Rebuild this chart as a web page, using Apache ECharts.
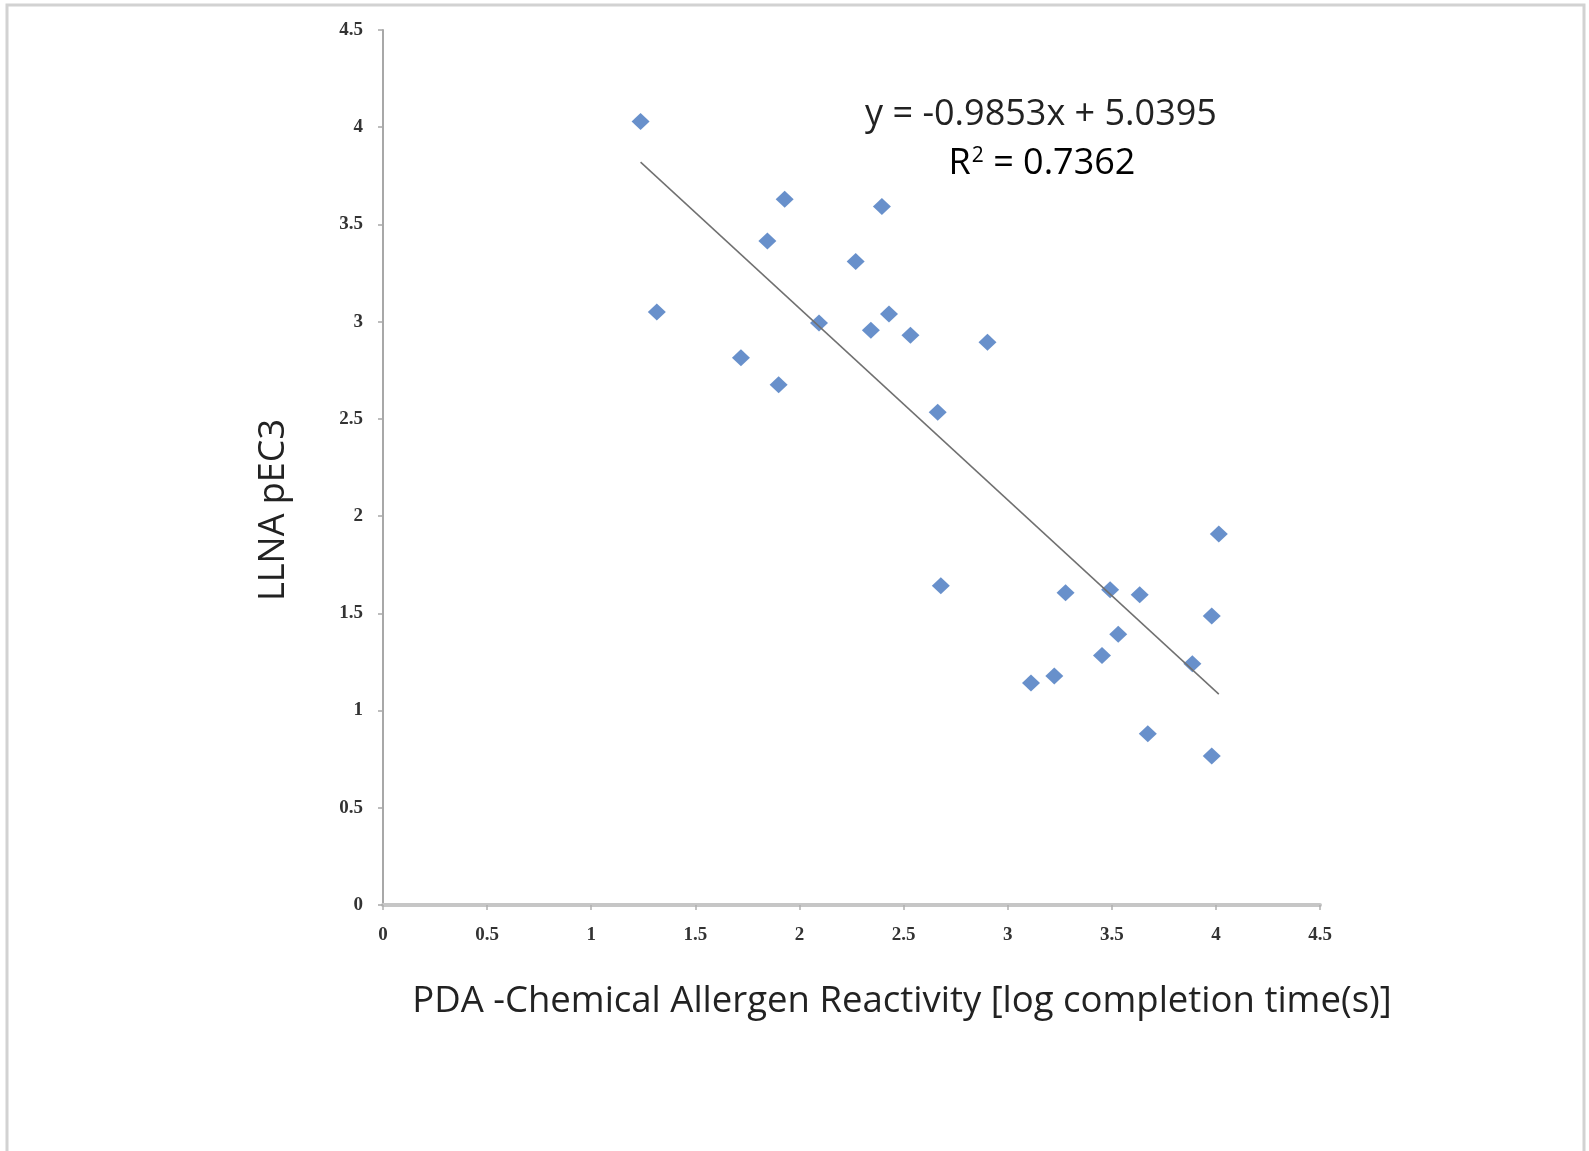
<!DOCTYPE html>
<html>
<head>
<meta charset="utf-8">
<style>
  html, body { margin: 0; padding: 0; background: #fff; }
  #main { width: 1589px; height: 1151px; }
</style>
<script src="https://cdn.jsdelivr.net/npm/echarts@6/dist/echarts.min.js"></script>
</head>
<body>
<div id="main"></div>
<script>
// PDA reactivity (log completion time) vs LLNA pEC3
var xValues = [1.237, 1.315, 1.719, 1.846, 1.929, 1.900, 2.094, 2.270, 2.396, 2.343,
               2.430, 2.533, 2.903, 2.664, 2.679, 3.278, 3.112, 3.224, 3.453, 3.492,
               3.531, 3.634, 3.673, 3.887, 3.980, 3.980, 4.014];
var yValues = [4.030, 3.050, 2.815, 3.415, 3.629, 2.675, 2.993, 3.310, 3.592, 2.956,
               3.040, 2.930, 2.894, 2.534, 1.642, 1.606, 1.142, 1.178, 1.283, 1.621,
               1.392, 1.595, 0.881, 1.241, 1.486, 0.766, 1.908];
var xTicks = [0, 0.5, 1, 1.5, 2, 2.5, 3, 3.5, 4, 4.5];
var yTicks = [0, 0.5, 1, 1.5, 2, 2.5, 3, 3.5, 4, 4.5];

// trendline from the equation shown on the chart
var slope = -0.9853;
var intercept = 5.0395;
var rSquared = '0.7362';

var points = xValues.map(function (x, i) { return [x, yValues[i]]; });
var xMin = Math.min.apply(null, xValues);
var xMax = Math.max.apply(null, xValues);
var trend = [[xMin, slope * xMin + intercept], [xMax, slope * xMax + intercept]];

var chart = echarts.init(document.getElementById('main'));

var tickFont = {
  fontFamily: 'Liberation Serif',
  fontWeight: 'bold',
  fontSize: 19,
  color: '#333'
};
var titleFont = '36px "Open Sans"';

var option = {
  animation: false,
  backgroundColor: '#fff',
  grid: { left: 383, top: 30, width: 937, height: 875 },
  xAxis: {
    type: 'value',
    min: 0, max: 4.5, interval: 0.5,
    axisLine: { show: true, lineStyle: { color: '#c6c6c6', width: 4 } },
    axisTick: { show: true, length: 5, lineStyle: { color: '#b0b0b0', width: 1.5 } },
    splitLine: { show: false },
    axisLabel: Object.assign({ margin: 21, formatter: function (v) { return xTicks.indexOf(v) >= 0 ? String(v) : ''; } }, tickFont)
  },
  yAxis: {
    type: 'value',
    min: 0, max: 4.5, interval: 0.5,
    axisLine: { show: true, lineStyle: { color: '#a8a8a8', width: 2 } },
    axisTick: { show: true, length: 5, lineStyle: { color: '#a8a8a8', width: 1.5 } },
    splitLine: { show: false },
    axisLabel: Object.assign({ margin: 20, formatter: function (v) { return yTicks.indexOf(v) >= 0 ? String(v) : ''; } }, tickFont)
  },
  series: [
    {
      type: 'scatter',
      data: points,
      symbol: 'diamond',
      symbolSize: [18, 17],
      itemStyle: { color: '#4274be' },
      z: 2
    },
    {
      type: 'line',
      data: trend,
      showSymbol: false,
      symbol: 'none',
      lineStyle: { color: '#707070', width: 1.5 },
      z: 3
    }
  ],
  graphic: [
    {
      type: 'rect',
      shape: { x: 7, y: 5, width: 1577, height: 1200 },
      style: { fill: 'none', stroke: '#d2d2d2', lineWidth: 3 },
      silent: true
    },
    {
      type: 'text',
      x: 1041, y: 115,
      style: { text: 'y = -0.9853x + 5.0395', font: titleFont, fill: '#222', align: 'center', verticalAlign: 'middle' }
    },
    {
      type: 'text',
      x: 1042, y: 164,
      style: {
        text: '{a|R}{s|2}{a| = ' + rSquared + '}',
        align: 'center', verticalAlign: 'middle',
        rich: {
          a: { fontFamily: 'Open Sans', fontSize: 36, color: '#222' },
          s: { fontFamily: 'Open Sans', fontSize: 21, color: '#222', verticalAlign: 'top', padding: [0, 0, 16, 1] }
        }
      }
    },
    {
      // y axis title
      type: 'text',
      x: 274, y: 510, rotation: Math.PI / 2,
      style: { text: 'LLNA pEC3', font: titleFont, fill: '#222', align: 'center', verticalAlign: 'middle' }
    },
    {
      // x axis title
      type: 'text',
      x: 902, y: 1002,
      style: { text: 'PDA -Chemical Allergen Reactivity [log completion time(s)]', font: '36.5px "Open Sans"', fill: '#222', align: 'center', verticalAlign: 'middle' }
    }
  ]
};

chart.setOption(option);
</script>
</body>
</html>
